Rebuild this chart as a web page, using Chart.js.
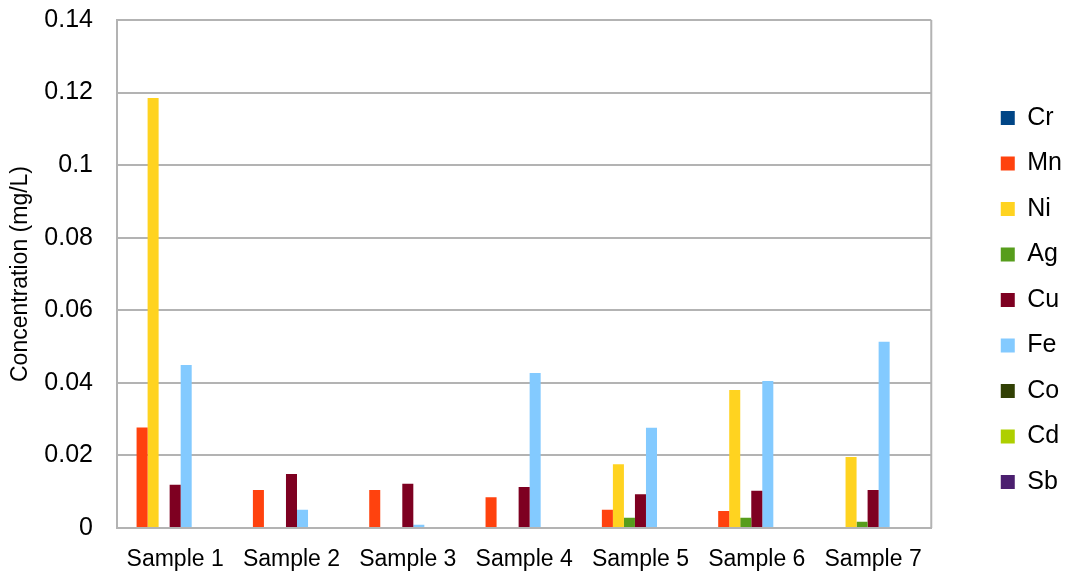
<!DOCTYPE html>
<html>
<head>
<meta charset="utf-8">
<script src="https://cdn.jsdelivr.net/npm/chart.js@4/dist/chart.umd.min.js"></script>
<style>
  html, body { margin: 0; padding: 0; background: #ffffff; }
  #wrap { width: 1065px; height: 573px; position: relative; }
</style>
</head>
<body>
<div id="wrap"><canvas id="c" width="1065" height="573"></canvas></div>
<script>
const categories = ["Sample 1", "Sample 2", "Sample 3", "Sample 4", "Sample 5", "Sample 6", "Sample 7"];
const seriesNames = ["Cr", "Mn", "Ni", "Ag", "Cu", "Fe", "Co", "Cd", "Sb"];
const Cr = [0, 0, 0, 0, 0, 0, 0];
const Mn = [0.0277, 0.0105, 0.0105, 0.0085, 0.0050, 0.0047, 0];
const Ni = [0.1185, 0, 0, 0, 0.0176, 0.0380, 0.0196];
const Ag = [0, 0, 0, 0.0003, 0.0028, 0.0028, 0.0017];
const Cu = [0.0119, 0.0149, 0.0122, 0.0113, 0.0093, 0.0103, 0.0105];
const Fe = [0.0449, 0.0050, 0.0009, 0.0427, 0.0276, 0.0405, 0.0513];
const Co = [0, 0, 0, 0, 0, 0, 0];
const Cd = [0, 0, 0, 0, 0, 0, 0];
const Sb = [0, 0, 0, 0, 0, 0, 0];
const yTickLabels = ["0", "0.02", "0.04", "0.06", "0.08", "0.1", "0.12", "0.14"];
const colors = ["#004586", "#ff420e", "#ffd320", "#579d1c", "#7e0021", "#83caff", "#314004", "#aecf00", "#4b1f6f"];

const seriesData = [Cr, Mn, Ni, Ag, Cu, Fe, Co, Cd, Sb];
const datasets = seriesNames.map((name, i) => ({
  label: name,
  data: seriesData[i],
  backgroundColor: colors[i],
  borderWidth: 0,
  categoryPercentage: 0.853,
  barPercentage: 1.0
}));

const FONT = '"Liberation Sans", Arial, sans-serif';

const frame = {
  id: 'frame',
  afterLayout(chart) {
    const lg = chart.legend;
    if (lg) { lg.top += 3.5; lg.bottom += 3.5; lg.left += 7; lg.right += 7; }
  },
  beforeDatasetsDraw(chart) {
    const {ctx, chartArea: a} = chart;
    ctx.save();
    ctx.strokeStyle = '#b3b3b3';
    ctx.lineWidth = 2;
    ctx.beginPath();
    ctx.moveTo(a.right, a.top);
    ctx.lineTo(a.right, a.bottom);
    ctx.stroke();
    ctx.restore();
  }
};

new Chart(document.getElementById('c'), {
  type: 'bar',
  data: { labels: categories, datasets },
  plugins: [frame],
  options: {
    responsive: false,
    animation: false,
    devicePixelRatio: 1,
    layout: { padding: { top: 20, left: 0, right: 0, bottom: 0 } },
    plugins: {
      legend: {
        position: 'right',
        labels: {
          boxWidth: 14,
          boxHeight: 14,
          padding: 20.5,
          color: '#000000',
          font: { family: FONT, size: 25 }
        }
      },
      tooltip: { enabled: false }
    },
    scales: {
      x: {
        grid: { display: false, drawTicks: false },
        border: { display: true, color: '#b3b3b3', width: 2 },
        ticks: {
          color: '#000000',
          padding: 18,
          maxRotation: 0,
          autoSkip: false,
          font: { family: FONT, size: 23 }
        },
        afterFit(s) { s.height = 45; s.paddingLeft = 0; s.paddingRight = 0; }
      },
      y: {
        min: 0,
        max: 0.14,
        ticks: {
          stepSize: 0.02,
          color: '#000000',
          padding: 24,
          font: { family: FONT, size: 25 },
          callback: (v, i) => yTickLabels[i]
        },
        grid: { color: '#b3b3b3', lineWidth: 2, drawTicks: false },
        border: { display: true, color: '#b3b3b3', width: 2 },
        title: {
          display: true,
          text: 'Concentration (mg/L)',
          color: '#000000',
          padding: { top: 7, bottom: 0 },
          font: { family: FONT, size: 23 }
        },
        afterFit(s) { s.width = 117; s.paddingTop = 0; s.paddingBottom = 0; }
      },
      yR: {
        position: 'right',
        display: true,
        grid: { display: false, drawTicks: false },
        border: { display: false },
        ticks: { display: false },
        afterFit(s) { s.width = 42; s.paddingTop = 0; s.paddingBottom = 0; }
      }
    }
  }
});
</script>
</body>
</html>
